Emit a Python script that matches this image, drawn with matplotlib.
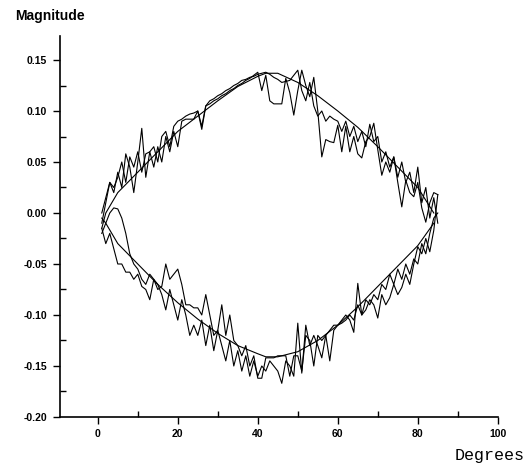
import numpy as np
import matplotlib
matplotlib.use('Agg')
import matplotlib.pyplot as plt
from matplotlib.ticker import MultipleLocator, FormatStrFormatter

# smooth reference contour
smooth_up_x = [1, 2, 5, 10, 15, 20, 25, 30, 35, 40, 42, 45, 50, 55, 60, 65, 70, 75, 80, 84]
smooth_up_y = [-0.015, 0.0, 0.02, 0.04, 0.06, 0.08, 0.095, 0.11, 0.124, 0.134, 0.137, 0.137,
               0.128, 0.115, 0.10, 0.084, 0.065, 0.045, 0.025, 0.0]
smooth_lo_x = [1, 2, 5, 10, 15, 20, 25, 30, 35, 40, 42, 45, 50, 55, 60, 65, 70, 75, 80, 84]
smooth_lo_y = [-0.005, -0.01, -0.03, -0.05, -0.07, -0.088, -0.104, -0.118, -0.13, -0.138, -0.141,
               -0.141, -0.136, -0.125, -0.11, -0.092, -0.072, -0.052, -0.032, -0.01]

deg = np.arange(1, 86)

upper_a = [-0.01, 0.01, 0.03, 0.02, 0.04, 0.025, 0.058, 0.045, 0.02, 0.05,
           0.083, 0.035, 0.06, 0.045, 0.065, 0.05, 0.075, 0.06, 0.08, 0.065,
           0.09, 0.092, 0.092, 0.092, 0.10, 0.085, 0.105, 0.11, 0.112, 0.115,
           0.117, 0.12, 0.122, 0.125, 0.127, 0.13, 0.131, 0.133, 0.134, 0.136,
           0.137, 0.138, 0.136, 0.133, 0.131, 0.128, 0.129, 0.13, 0.135, 0.14,
           0.12, 0.11, 0.128, 0.105, 0.095, 0.10, 0.09, 0.095, 0.092, 0.09,
           0.08, 0.09, 0.075, 0.085, 0.07, 0.08, 0.065, 0.087, 0.07, 0.075,
           0.05, 0.06, 0.045, 0.055, 0.035, 0.05, 0.03, 0.04, 0.02, 0.045,
           0.01, 0.025, -0.005, 0.015, -0.01]

upper_b = [0.0, 0.015, 0.03, 0.025, 0.035, 0.05, 0.03, 0.055, 0.045, 0.06,
           0.04, 0.058, 0.06, 0.065, 0.05, 0.075, 0.08, 0.065, 0.085, 0.09,
           0.092, 0.095, 0.097, 0.098, 0.10, 0.082, 0.105, 0.107, 0.11, 0.112,
           0.115, 0.117, 0.12, 0.122, 0.125, 0.127, 0.13, 0.132, 0.135, 0.138,
           0.12, 0.135, 0.11, 0.107, 0.107, 0.107, 0.132, 0.118, 0.096, 0.12,
           0.14, 0.125, 0.114, 0.133, 0.10, 0.055, 0.072, 0.07, 0.069, 0.086,
           0.06, 0.085, 0.06, 0.075, 0.058, 0.054, 0.07, 0.075, 0.088, 0.062,
           0.037, 0.05, 0.04, 0.055, 0.03, 0.006, 0.032, 0.02, 0.016, 0.03,
           0.005, -0.009, 0.01, 0.02, 0.018]

lower_a = [-0.02, -0.01, 0.0, 0.005, 0.004, -0.005, -0.02, -0.04, -0.05, -0.055,
           -0.065, -0.07, -0.06, -0.065, -0.075, -0.072, -0.05, -0.065, -0.06, -0.055,
           -0.07, -0.09, -0.09, -0.093, -0.093, -0.10, -0.08, -0.10, -0.12, -0.115,
           -0.09, -0.12, -0.10, -0.125, -0.13, -0.14, -0.13, -0.15, -0.14, -0.162,
           -0.162, -0.142, -0.142, -0.142, -0.14, -0.14, -0.14, -0.16, -0.14, -0.14,
           -0.155, -0.12, -0.125, -0.15, -0.12, -0.125, -0.12, -0.145, -0.115, -0.11,
           -0.108, -0.105, -0.10, -0.105, -0.09, -0.10, -0.085, -0.09, -0.08, -0.085,
           -0.07, -0.075, -0.06, -0.07, -0.055, -0.065, -0.05, -0.06, -0.045, -0.05,
           -0.03, -0.04, -0.02, -0.005, 0.0]

lower_b = [-0.015, -0.03, -0.02, -0.035, -0.05, -0.05, -0.058, -0.058, -0.065, -0.06,
           -0.072, -0.075, -0.085, -0.065, -0.07, -0.08, -0.095, -0.075, -0.09, -0.105,
           -0.085, -0.10, -0.12, -0.11, -0.12, -0.105, -0.13, -0.11, -0.135, -0.115,
           -0.13, -0.145, -0.125, -0.15, -0.135, -0.155, -0.14, -0.16, -0.145, -0.16,
           -0.15, -0.155, -0.145, -0.15, -0.155, -0.167, -0.145, -0.15, -0.16, -0.108,
           -0.157, -0.11, -0.13, -0.12, -0.13, -0.142, -0.12, -0.115, -0.11, -0.11,
           -0.105, -0.10, -0.105, -0.117, -0.069, -0.10, -0.095, -0.085, -0.09, -0.103,
           -0.08, -0.09, -0.083, -0.07, -0.08, -0.073, -0.06, -0.07, -0.05, -0.033,
           -0.04, -0.025, -0.038, -0.017, 0.018]

fig = plt.figure(figsize=(5.29, 4.68), dpi=100)
ax = fig.add_axes([0.113, 0.109, 0.828, 0.814])

ax.plot(smooth_up_x, smooth_up_y, color='black', linewidth=0.8)
ax.plot(smooth_lo_x, smooth_lo_y, color='black', linewidth=0.8)
for series in [upper_a, upper_b, lower_a, lower_b]:
    ax.plot(deg, series, color='black', linewidth=0.8)

ax.set_xlim(-9.5, 100)
ax.set_ylim(-0.20, 0.1735)
ax.spines['top'].set_visible(False)
ax.spines['right'].set_visible(False)
ax.spines['left'].set_linewidth(1.2)
ax.spines['bottom'].set_linewidth(1.2)

ax.xaxis.set_major_locator(MultipleLocator(20))
ax.xaxis.set_minor_locator(MultipleLocator(10))
ax.yaxis.set_major_locator(MultipleLocator(0.05))
ax.yaxis.set_minor_locator(MultipleLocator(0.025))
ax.yaxis.set_major_formatter(FormatStrFormatter('%.2f'))
ax.tick_params(which='major', direction='out', length=5, width=1, labelsize=7.5, pad=4)
ax.tick_params(which='minor', direction='in', length=4, width=1)
for lbl in ax.get_xticklabels() + ax.get_yticklabels():
    lbl.set_fontweight('bold')
    lbl.set_family('Liberation Sans')

fig.text(0.028, 0.965, 'Magnitude', fontsize=10, fontweight='bold',
         family='Liberation Sans', va='center', ha='left')
fig.text(0.992, 0.027, 'Degrees', fontsize=12, family='Liberation Mono',
         va='center', ha='right')

fig.savefig('out.png', dpi=100)
